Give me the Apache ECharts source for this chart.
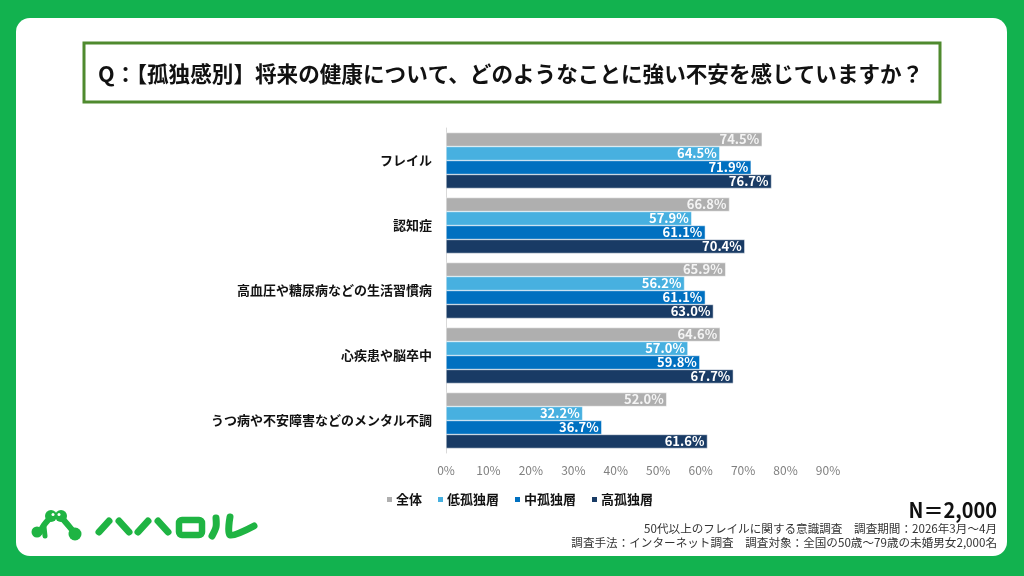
<!DOCTYPE html>
<html><head><meta charset="utf-8">
<script src="https://cdn.jsdelivr.net/npm/echarts@6/dist/echarts.min.js"></script>
<style>html,body{margin:0;padding:0;background:#12b24f;}#c{width:1024px;height:576px;}</style>
</head><body><div id="c"></div>
<script>
const categories = ['フレイル','認知症','高血圧や糖尿病などの生活習慣病','心疾患や脳卒中','うつ病や不安障害などのメンタル不調'];
const seriesNames = ['全体','低孤独層','中孤独層','高孤独層'];
const valuesAll = [74.5, 66.8, 65.9, 64.6, 52.0];
const valuesLow = [64.5, 57.9, 56.2, 57.0, 32.2];
const valuesMid = [71.9, 61.1, 61.1, 59.8, 36.7];
const valuesHigh = [76.7, 70.4, 63.0, 67.7, 61.6];
const xTicks = [0,10,20,30,40,50,60,70,80,90];
const colors = ['#afafaf','#47b0e0','#0070c0','#193b65'];
const FONT = '"Noto Sans CJK JP","Noto Sans",sans-serif';
const G = '#1fb443';

function stroke(points, w) {
  return {type:'polyline', shape:{points:points, smooth:0.3}, style:{stroke:G, lineWidth:w||7, fill:null, lineCap:'round', lineJoin:'round'}};
}

const chart = echarts.init(document.getElementById('c'));
const data = [valuesAll, valuesLow, valuesMid, valuesHigh];
chart.setOption({
  backgroundColor: '#12b24f',
  textStyle: {fontFamily: FONT},
  graphic: [
    {type:'rect', shape:{x:16,y:18,width:991,height:538,r:14}, style:{fill:'#ffffff'}, z:-10},
    {type:'rect', shape:{x:84,y:43,width:856,height:59}, style:{fill:'#fff', stroke:'#4f8a2e', lineWidth:3}, z:-5},
    {type:'text', x:98, y:74, style:{text:'Q：【孤独感別】将来の健康について、どのようなことに強い不安を感じていますか？', font:'bold 21.6px '+FONT, fill:'#111', verticalAlign:'middle'}},
    {type:'text', x:997, y:510, scaleX:0.95, style:{text:'N＝2,000', font:'bold 21px '+FONT, fill:'#111', align:'right', verticalAlign:'middle'}},
    {type:'text', x:997, y:528.5, style:{text:'50代以上のフレイルに関する意識調査　調査期間：2026年3月～4月', font:'11.6px '+FONT, fill:'#333', align:'right', verticalAlign:'middle'}},
    {type:'text', x:997, y:543, style:{text:'調査手法：インターネット調査　調査対象：全国の50歳～79歳の未婚男女2,000名', font:'11.6px '+FONT, fill:'#333', align:'right', verticalAlign:'middle'}},
    // logo icon
    {type:'group', children:[
      stroke([[50,518],[44,525],[40,532]], 6),
      {type:'circle', shape:{cx:37, cy:532, r:5.5}, style:{fill:G}},
      stroke([[44,527],[45,536]], 5),
      {type:'circle', shape:{cx:51, cy:516, r:6}, style:{fill:G}},
      {type:'circle', shape:{cx:53, cy:514.5, r:1.5}, style:{fill:'#fff'}},
      stroke([[62,518],[68,525],[73,531]], 6),
      {type:'circle', shape:{cx:75, cy:534, r:6.5}, style:{fill:G}},
      {type:'circle', shape:{cx:61, cy:516, r:6}, style:{fill:G}},
      {type:'circle', shape:{cx:59, cy:514.5, r:1.5}, style:{fill:'#fff'}}
    ]},
    // logo text ハハロル
    {type:'group', children:[
      stroke([[109,521],[99,532]]),
      stroke([[119,521],[129,532]]),
      stroke([[148,521],[138,532]]),
      stroke([[158,521],[168,532]]),
      {type:'rect', shape:{x:179,y:520,width:23,height:15,r:3}, style:{fill:null, stroke:G, lineWidth:6.5}},
      stroke([[216,518],[216,527],[212,536]]),
      stroke([[230,517],[230,535],[254,526]])
    ]}
  ],
  legend: {
    data: seriesNames, left: 380, top: 488, itemWidth: 7, itemHeight: 7, itemGap: 14, icon: 'rect',
    textStyle: {fontFamily: FONT, fontWeight:'bold', fontSize: 13, color:'#111', padding:[0,0,0,-2]}
  },
  grid: {left: 446, right: 196, top: 128, bottom: 123, containLabel: false},
  xAxis: {
    type: 'value', min: 0, max: 90, interval: 10,
    axisLine:{show:false}, axisTick:{show:false}, splitLine:{show:false},
    axisLabel:{formatter: v => xTicks.includes(v) ? v + '%' : '', color:'#808080', fontSize:12, margin:11, fontFamily: FONT}
  },
  yAxis: {
    type: 'category', data: categories, inverse: true,
    axisLine:{show:true, lineStyle:{color:'#d9d9d9', width:1}}, axisTick:{show:false},
    axisLabel:{color:'#111', fontWeight:'bold', fontSize:13, margin:14, fontFamily: FONT}
  },
  series: seriesNames.map((n, i) => ({
    name: n, type: 'bar', data: data[i], barGap: '0%', barCategoryGap: '14%',
    itemStyle: {color: colors[i], borderColor:'#ffffff', borderWidth:0.5},
    label: {show: true, position: 'insideRight', formatter: p => p.value.toFixed(1) + '%',
      color: i === 0 ? '#f4f4f4' : '#ffffff', fontWeight: 'bold', fontSize: 13, distance: 3, fontFamily: FONT},
    animation: false
  })),
  animation: false
});
</script></body></html>
